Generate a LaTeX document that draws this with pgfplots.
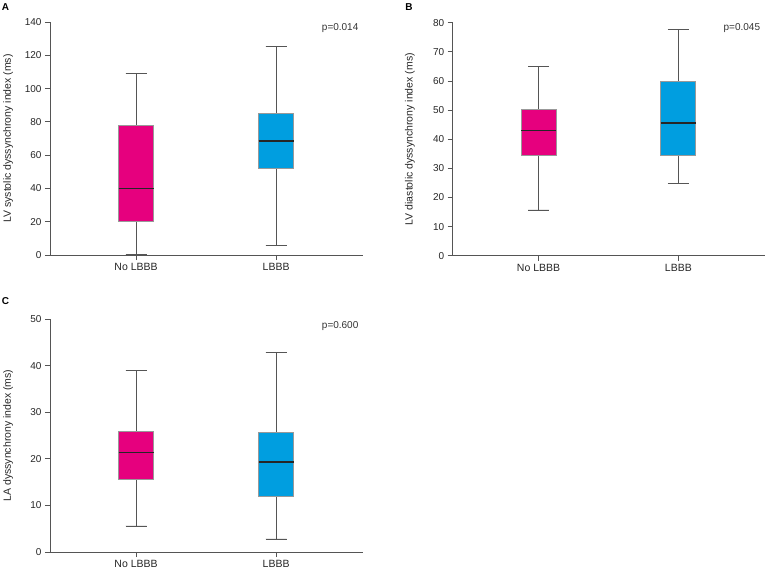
\documentclass[border=0pt]{standalone}
\usepackage{pgfplots}
\pgfplotsset{compat=1.18}
\usepgfplotslibrary{statistics}
\usepackage{fontspec}
\setmainfont{Liberation Sans}
\definecolor{pinkbox}{RGB}{230,0,126}
\definecolor{bluebox}{RGB}{0,158,224}
\definecolor{axgray}{RGB}{85,85,85}
\pgfplotsset{
  panel/.style={
    scale only axis, width=313pt, height=233pt, anchor=south west,
    axis lines*=left, axis line style={axgray, line width=0.8pt},
    xmin=0.386, xmax=2.62, xtick={1,2}, xticklabels={No LBBB, LBBB},
    tick align=outside, major tick length=5pt,
    tick style={axgray, line width=0.8pt},
    /pgf/number format/assume math mode=true,
    ticklabel style={font=\fontsize{10.5}{12}\selectfont, text=black!85},
    yticklabel style={font=\fontsize{10}{12}\selectfont},
    label style={font=\fontsize{10.5}{12}\selectfont, text=black!85},
    ymin=0, clip=false,
    boxplot/draw direction=y,
    boxplot/box extend=0.25, boxplot/whisker extend=0.15,
    boxplot/every median/.style={black!85, line width=1.4pt},
    boxplot/every whisker/.style={axgray, line width=0.8pt},
    boxplot/every box/.style={draw=gray!80, line width=0.8pt},
  },
}
\begin{document}
\begin{tikzpicture}
\useasboundingbox (0pt,0pt) rectangle (767pt,571pt);
% Panel A
\begin{axis}[panel, at={(50pt,316pt)}, ymax=140, ytick={0,20,...,140},
  ylabel={LV systolic dyssynchrony index (ms)},
  ylabel style={at={(axis description cs:-0.134,0.5)}, anchor=center}]
\addplot+[no marks, fill=pinkbox, draw=gray!80, boxplot prepared={lower whisker=0.5, lower quartile=20, median=40, upper quartile=78, upper whisker=109, draw position=1}] coordinates {};
\addplot+[no marks, fill=bluebox, draw=gray!80, boxplot prepared={lower whisker=5.5, lower quartile=52, median=68.5, upper quartile=85, upper whisker=125.5, draw position=2}] coordinates {};
\node[font=\fontsize{10}{12}\selectfont, text=black!80] at (rel axis cs:0.927,0.974) {p=0.014};
\end{axis}
% Panel B
\begin{axis}[panel, at={(452.7pt,315.3pt)}, width=312.3pt, ymax=80, ytick={0,10,...,80},
  ylabel={LV diastolic dyssynchrony index (ms)},
  ylabel style={at={(axis description cs:-0.137,0.5)}, anchor=center}]
\addplot+[no marks, fill=pinkbox, draw=gray!80, boxplot prepared={lower whisker=15.7, lower quartile=34.4, median=42.9, upper quartile=50.4, upper whisker=65, draw position=1}] coordinates {};
\addplot+[no marks, fill=bluebox, draw=gray!80, boxplot prepared={lower whisker=24.8, lower quartile=34.4, median=45.6, upper quartile=60, upper whisker=77.8, draw position=2}] coordinates {};
\node[font=\fontsize{10}{12}\selectfont, text=black!80] at (rel axis cs:0.926,0.976) {p=0.045};
\end{axis}
% Panel C
\begin{axis}[panel, at={(50pt,19pt)}, ymax=50, ytick={0,10,...,50},
  ylabel={LA dyssynchrony index (ms)},
  ylabel style={at={(axis description cs:-0.134,0.5)}, anchor=center}]
\addplot+[no marks, fill=pinkbox, draw=gray!80, boxplot prepared={lower whisker=5.6, lower quartile=15.6, median=21.3, upper quartile=25.9, upper whisker=39, draw position=1}] coordinates {};
\addplot+[no marks, fill=bluebox, draw=gray!80, boxplot prepared={lower whisker=2.8, lower quartile=12, median=19.3, upper quartile=25.6, upper whisker=42.8, draw position=2}] coordinates {};
\node[font=\fontsize{10}{12}\selectfont, text=black!80] at (rel axis cs:0.927,0.971) {p=0.600};
\end{axis}
\node[font=\bfseries\fontsize{10}{12}\selectfont] at (5.5pt,564pt) {A};
\node[font=\bfseries\fontsize{10}{12}\selectfont] at (409pt,564pt) {B};
\node[font=\bfseries\fontsize{10}{12}\selectfont] at (5.5pt,269.5pt) {C};
\end{tikzpicture}
\end{document}
